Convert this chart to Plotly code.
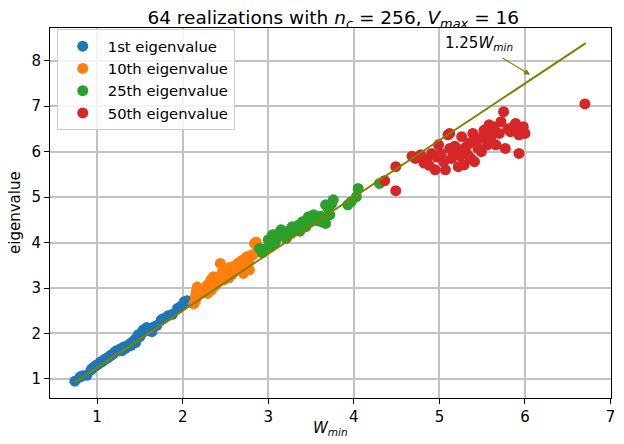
import plotly.graph_objects as go

# ---- data ----
blue_x = [0.74,0.80,0.83,0.88,0.93,0.95,0.97,0.99,1.02,1.04,1.06,1.08,1.10,1.12,1.14,1.16,1.18,1.20,1.21,1.23,
          1.25,1.27,1.29,1.31,1.33,1.35,1.37,1.39,1.40,1.42,1.44,1.45,1.47,1.48,1.50,1.52,1.54,1.56,1.58,1.60,
          1.62,1.64,1.66,1.70,1.75,1.78,1.83,1.88,1.94,1.98,2.02,2.05]
blue_y = [0.95,1.04,1.07,1.08,1.20,1.24,1.27,1.30,1.33,1.37,1.38,1.42,1.44,1.46,1.49,1.52,1.54,1.57,1.60,1.62,
          1.63,1.66,1.62,1.70,1.67,1.73,1.72,1.78,1.74,1.82,1.86,1.80,1.92,1.97,1.93,2.00,2.08,2.05,2.13,2.10,
          2.06,2.04,2.14,2.18,2.30,2.33,2.39,2.42,2.55,2.60,2.70,2.72]

orange_x = [2.13,2.15,2.15,2.16,2.17,2.22,2.26,2.29,2.29,2.31,2.33,2.34,2.36,2.38,2.40,2.42,2.44,2.45,2.47,2.48,
            2.50,2.52,2.54,2.55,2.57,2.58,2.60,2.61,2.63,2.65,2.67,2.69,2.71,2.71,2.73,2.75,2.77,2.78,2.80,2.82,
            2.84,2.86,2.88,2.90]
orange_y = [2.65,2.72,2.82,2.92,3.02,2.90,2.95,2.88,3.07,2.98,3.18,2.96,3.25,3.05,3.10,3.20,3.54,3.30,3.38,3.18,
            3.42,3.29,3.22,3.45,3.36,3.30,3.48,3.44,3.40,3.55,3.51,3.60,3.62,3.32,3.50,3.69,3.60,3.40,3.72,3.73,
            3.98,4.01,3.85,3.80]

green_x = [2.90,2.93,2.96,3.00,3.02,3.05,3.05,3.08,3.10,3.12,3.15,3.17,3.19,3.21,3.23,3.26,3.28,3.30,3.32,3.35,
           3.37,3.40,3.42,3.44,3.45,3.47,3.49,3.51,3.53,3.55,3.57,3.59,3.61,3.63,3.67,3.67,3.70,3.72,3.74,3.76,
           3.93,3.97,4.03,4.05,4.30]
green_y = [3.87,3.78,3.85,4.06,3.92,4.14,4.17,4.00,4.10,4.20,4.28,4.24,4.15,4.09,4.25,4.20,4.35,4.30,4.31,4.38,
           4.25,4.46,4.40,4.35,4.50,4.57,4.45,4.52,4.61,4.55,4.48,4.50,4.58,4.45,4.42,4.83,4.75,4.61,4.85,4.94,
           4.83,4.90,5.01,5.19,5.30]

red_x = [4.36,4.49,4.49,4.68,4.72,4.78,4.82,4.85,4.88,4.91,4.95,4.97,4.99,5.02,5.05,5.07,5.10,5.12,5.12,5.14,
         5.16,5.18,5.22,5.24,5.26,5.26,5.29,5.31,5.33,5.35,5.37,5.39,5.41,5.43,5.45,5.47,5.49,5.52,5.54,5.56,
         5.58,5.60,5.62,5.64,5.66,5.70,5.72,5.75,5.77,5.80,5.83,5.86,5.89,5.91,5.93,5.93,5.96,5.98,6.00,6.70]
red_y = [5.36,5.67,5.14,5.90,5.85,5.93,5.75,5.82,5.70,5.96,5.60,5.88,6.15,5.95,5.78,5.60,6.37,6.40,6.07,5.85,
         5.93,6.12,5.67,5.90,6.33,6.04,5.71,6.10,5.93,6.19,5.85,6.40,5.78,6.25,6.07,6.29,6.00,6.47,6.35,6.15,
         6.59,6.30,6.47,6.55,6.15,6.40,6.66,6.88,6.07,6.50,6.44,6.55,6.62,6.50,6.37,5.96,6.45,6.55,6.40,7.05]

line_x = [0.74, 6.71]
slope = 1.25
line_y = [slope * v for v in line_x]

series = [
    ("1st eigenvalue", blue_x, blue_y, "#1f77b4"),
    ("10th eigenvalue", orange_x, orange_y, "#ff7f0e"),
    ("25th eigenvalue", green_x, green_y, "#2ca02c"),
    ("50th eigenvalue", red_x, red_y, "#d62728"),
]

FONT = "DejaVu Sans"
fig = go.Figure()
for name, xs, ys, col in series:
    fig.add_trace(go.Scatter(x=xs, y=ys, mode="markers", name=name,
                             marker=dict(color=col, size=11, line=dict(width=0))))

fig.add_trace(go.Scatter(x=line_x, y=line_y, mode="lines", showlegend=False,
                         line=dict(color="#808000", width=2)))

fig.add_annotation(x=6.06, y=7.69, ax=5.72, ay=8.08, axref="x", ayref="y", xref="x", yref="y",
                   text="", showarrow=True, arrowhead=2, arrowsize=1, arrowwidth=1.2,
                   arrowcolor="#808000")
fig.add_annotation(x=5.46, y=8.38, xref="x", yref="y", showarrow=False,
                   text="1.25<i>W</i><sub><i>min</i></sub>",
                   font=dict(family=FONT, size=15, color="black"))

# axis titles as annotations for exact placement
fig.add_annotation(x=0.5, y=0, xref="paper", yref="paper", yshift=-30, showarrow=False,
                   text="<i>W</i><sub><i>min</i></sub>", xanchor="center", yanchor="middle",
                   font=dict(family=FONT, size=15, color="black"))
fig.add_annotation(x=0, y=0.5, xref="paper", yref="paper", xshift=-35, showarrow=False,
                   text="eigenvalue", textangle=-90, xanchor="center", yanchor="middle",
                   font=dict(family=FONT, size=15, color="black"))

axis_common = dict(showgrid=True, gridcolor="#c2c2c2", gridwidth=1.6,
                   showline=True, linecolor="black", linewidth=1, mirror=True,
                   ticks="outside", ticklen=5, tickcolor="black", tickwidth=1,
                   zeroline=False, automargin=False, ticklabeloverflow="allow",
                   tickfont=dict(family=FONT, size=15, color="black"))

fig.update_xaxes(range=[0.45, 7.005], tickvals=[1, 2, 3, 4, 5, 6, 7], **axis_common)
fig.update_yaxes(range=[0.58, 8.72], tickvals=[1, 2, 3, 4, 5, 6, 7, 8], **axis_common)

# the page adds an 8px body margin; keep the figure inside the window so no scrollbars appear
fig.update_layout(
    width=608, height=428,
    margin=dict(l=42, r=5, t=20, b=38, autoexpand=False),
    paper_bgcolor="white", plot_bgcolor="white",
    title=dict(text="64 realizations with <i>n</i><sub><i>c</i></sub> = 256, <i>V</i><sub><i>max</i></sub> = 16",
               x=0.535, xanchor="center", y=0.978, yanchor="middle",
               font=dict(family=FONT, size=18.5, color="black")),
    legend=dict(x=0.012, y=0.997, xanchor="left", yanchor="top",
                bgcolor="rgba(255,255,255,0.8)", bordercolor="#cccccc", borderwidth=1,
                font=dict(family=FONT, size=14.8, color="black"), tracegroupgap=0,
                itemwidth=40),
    showlegend=True,
)

fig.write_html("out.html")
